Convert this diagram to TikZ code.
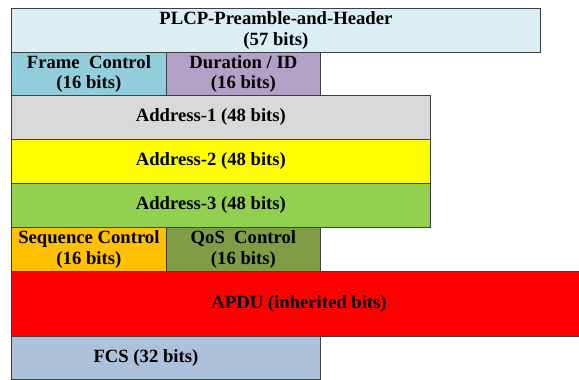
\documentclass[tikz,border=0pt]{standalone}
\usepackage{fontspec}
\setmainfont{Liberation Serif}
\usepackage{tikz}
\usetikzlibrary{positioning}
\usepackage{xcolor}
\definecolor{plcpcol}{HTML}{DAEEF3}
\definecolor{fccol}{HTML}{92CDDC}
\definecolor{durcol}{HTML}{B2A1C7}
\definecolor{adronecol}{HTML}{D9D9D9}
\definecolor{adrtwocol}{HTML}{FFFF00}
\definecolor{adrthreecol}{HTML}{92D050}
\definecolor{seqcol}{HTML}{FFC000}
\definecolor{qoscol}{HTML}{809D45}
\definecolor{apducol}{HTML}{FF0000}
\definecolor{fcscol}{HTML}{ADC1DB}

\begin{document}
\begin{tikzpicture}[x=0.75pt,y=-0.75pt,
    field/.style 2 args={draw=black!75,line width=0.6pt,anchor=north west,inner sep=0pt,align=center,
      minimum width=#1*0.75pt,minimum height=#2*0.75pt,font=\bfseries\fontsize{14}{15.5}\selectfont},
]
\useasboundingbox (0,0) rectangle (579,379);
\clip (0,0) rectangle (579,379);
\node[field={529}{44},fill=plcpcol] (plcp) at (11,8) {PLCP-Preamble-and-Header\\(57 bits)};
\node[field={155}{43},fill=fccol]   (fc)   at (11,52) {Frame~ Control\\(16 bits)};
\node[field={154}{43},fill=durcol]  (dur)  at (166,52) {Duration / ID\\(16 bits)};
\foreach \name/\col/\y/\lbl in {adrone/adronecol/95/Address-1,adrtwo/adrtwocol/139/Address-2,adrthree/adrthreecol/183/Address-3}
  \node[field={419}{44},fill=\col] (\name) at (11,\y) {\hspace*{-15pt}\lbl\ (48 bits)};
\node[field={155}{44},fill=seqcol]  (seq)  at (11,227) {Sequence Control\\(16 bits)};
\node[field={154}{44},fill=qoscol]  (qos)  at (166,227) {QoS~ Control\\(16 bits)};
\node[field={590}{65},fill=apducol] (apdu) at (11,271) {\hspace*{-11pt}APDU (inherited bits)};
\node[field={309}{43},fill=fcscol]  (fcs)  at (11,336) {\hspace*{-30pt}FCS (32 bits)};
\end{tikzpicture}
\end{document}
